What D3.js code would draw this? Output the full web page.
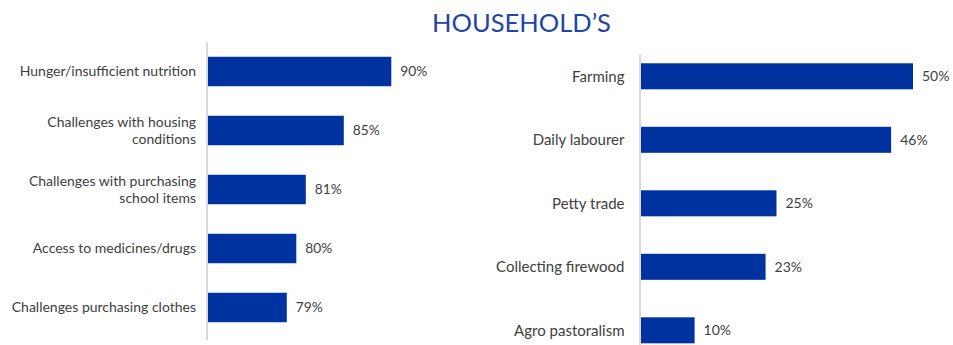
<!DOCTYPE html>
<html>
<head>
<meta charset="utf-8">
<script src="https://cdn.jsdelivr.net/npm/d3@7"></script>
<style>
  body { margin: 0; background: #fff; }
  svg { display: block; }
  text { font-family: Lato, "Open Sans", sans-serif; }
</style>
</head>
<body>
<svg id="chart" width="953" height="345"></svg>
<script>
// Household challenges (left panel) and income sources (right panel), in percent
const chartTitle = "HOUSEHOLD’S";

const challengeLabels = [
  "Hunger/insufficient nutrition",
  "Challenges with housing\nconditions",
  "Challenges with purchasing\nschool items",
  "Access to medicines/drugs",
  "Challenges purchasing clothes"
];
const challengeValues = [90, 85, 81, 80, 79];

const incomeLabels = [
  "Farming",
  "Daily labourer",
  "Petty trade",
  "Collecting firewood",
  "Agro pastoralism"
];
const incomeValues = [50, 46, 25, 23, 10];

const BAR = "#0033a0";
const TEXT = "#404040";
const AXIS = "#d9d9d9";

const svg = d3.select("#chart");

svg.append("text")
  .attr("x", 521.5)
  .attr("y", 32)
  .attr("text-anchor", "middle")
  .attr("font-size", 25.5)
  .attr("fill", "#1f45a6")
  .text(chartTitle);

function panel(cfg) {
  const data = cfg.labels.map((l, i) => ({ label: l, value: cfg.values[i] }));
  const g = svg.append("g");

  const x = d3.scaleLinear().domain(cfg.xDomain).range(cfg.xRange);
  const y = d3.scaleBand()
    .domain(cfg.labels)
    .range(cfg.yRange)
    .paddingInner(cfg.padInner)
    .paddingOuter(cfg.padOuter);

  // vertical category axis line
  g.append("line")
    .attr("x1", cfg.xRange[0]).attr("x2", cfg.xRange[0])
    .attr("y1", cfg.axisY[0]).attr("y2", cfg.axisY[1])
    .attr("stroke", AXIS)
    .attr("stroke-width", 2);

  g.selectAll("rect.bar")
    .data(data)
    .join("rect")
    .attr("class", "bar")
    .attr("x", x(cfg.xDomain[0]) + 1)
    .attr("y", d => y(d.label))
    .attr("width", d => x(d.value) - x(cfg.xDomain[0]) - 1)
    .attr("height", y.bandwidth())
    .attr("fill", BAR);

  // value labels
  g.selectAll("text.val")
    .data(data)
    .join("text")
    .attr("class", "val")
    .attr("x", d => x(d.value) + 9)
    .attr("y", d => y(d.label) + y.bandwidth() / 2)
    .attr("dy", "0.35em")
    .attr("font-size", cfg.valueSize)
    .attr("fill", TEXT)
    .text(d => d.value + "%");

  // category labels, right-aligned, multi-line where needed
  const lineH = 16.7;
  g.selectAll("text.cat")
    .data(data)
    .join("text")
    .attr("class", "cat")
    .attr("text-anchor", "end")
    .attr("font-size", cfg.labelSize)
    .attr("fill", TEXT)
    .each(function (d) {
      const lines = d.label.split("\n");
      const cy = y(d.label) + y.bandwidth() / 2;
      const t = d3.select(this);
      lines.forEach((ln, i) => {
        t.append("tspan")
          .attr("x", cfg.labelX)
          .attr("y", cy + (i - (lines.length - 1) / 2) * lineH)
          .attr("dy", "0.35em")
          .text(ln);
      });
    });
}

panel({
  labels: challengeLabels,
  values: challengeValues,
  xDomain: [70.6, 90],
  xRange: [207, 391.3],
  yRange: [42, 337],
  padInner: 0.5,
  padOuter: 0.25,
  axisY: [42, 340],
  labelX: 196,
  labelSize: 14,
  valueSize: 13.8
});

panel({
  labels: incomeLabels,
  values: incomeValues,
  xDomain: [0, 50],
  xRange: [640, 913],
  yRange: [54, 352.6],
  padInner: 0.59,
  padOuter: 0.146,
  axisY: [54, 345],
  labelX: 624.5,
  labelSize: 15,
  valueSize: 14
});
</script>
</body>
</html>
